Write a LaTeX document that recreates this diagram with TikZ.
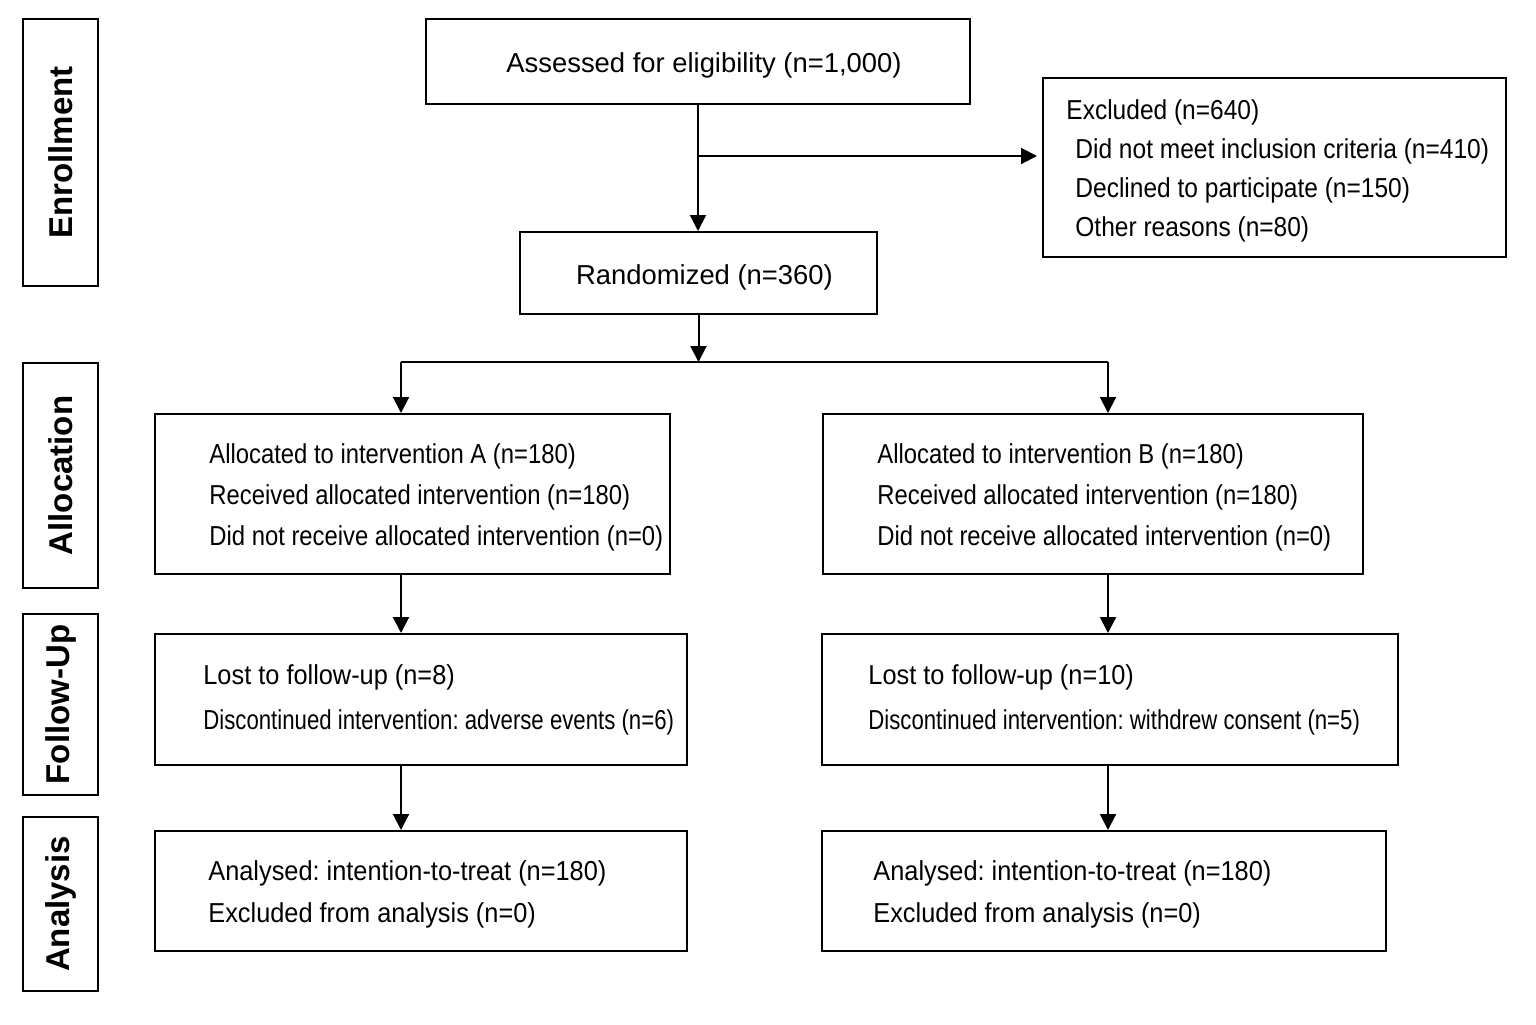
\documentclass[tikz,border=0pt]{standalone}
\usepackage{fontspec}
\setmainfont{Liberation Sans}
\newfontfamily\slimsans[FakeStretch=0.81]{Liberation Sans}
\newfontfamily\narrowsans[FakeStretch=0.87]{Liberation Sans}
\newfontfamily\midsans[FakeStretch=0.895]{Liberation Sans}
\newfontfamily\widesans[FakeStretch=0.925]{Liberation Sans}
\frenchspacing
\usetikzlibrary{arrows.meta,positioning}
\tikzset{
  boxnd/.style={draw, line width=1pt, inner sep=0pt},
  titlebox/.style={boxnd, text height=12pt, text depth=1pt,
    font=\fontsize{13.7}{16}\selectfont},
  stagebox/.style={boxnd, rotate=90, minimum height=37.5pt,
    font=\fontsize{16.5}{18}\selectfont\bfseries},
  txt/.style={inner sep=0pt, align=left, anchor=west, yshift=-1.5pt},
  fnt/.style 2 args={font=#1\fontsize{13.7}{#2}\selectfont},
  flow/.style={-{Triangle[length=8pt,width=8pt]}, line width=1pt},
  plainln/.style={line width=1pt},
}
\begin{document}
\begin{tikzpicture}[x=0.5pt,y=-0.5pt]
  \useasboundingbox (0,0) rectangle (1536,1024);
  % stage labels
  \node[stagebox, minimum width=133.5pt] (enrol) at (60.5,152.5) {Enrollment};
  \node[stagebox, minimum width=112.5pt] (alloc) at (60.5,475.5) {Allocation};
  \node[stagebox, minimum width=90.5pt] (follow) at (60.5,704.5) {Follow-Up};
  \node[stagebox, minimum width=87pt] (anal) at (60.5,904) {Analysis};

  % enrollment
  \node[titlebox, minimum width=272pt, minimum height=42.5pt] (assess) at (698,61.5)
    {\hspace*{6pt}Assessed for eligibility (n=1,000)};
  \node[boxnd, minimum width=231.5pt, minimum height=89.5pt] (excl) at (1274.5,167.5) {};
  \node[txt, fnt={\midsans}{19.5}] (exclt) at ([xshift=12pt]excl.west)
    {Excluded (n=640)\\
     \hspace*{4.5pt}Did not meet inclusion criteria (n=410)\\
     \hspace*{4.5pt}Declined to participate (n=150)\\
     \hspace*{4.5pt}Other reasons (n=80)};
  \node[titlebox, minimum width=178.5pt, minimum height=41pt] (rand) at (698.5,273)
    {\hspace*{6pt}Randomized (n=360)};

  % allocation
  \node[boxnd, minimum width=257.5pt, minimum height=80pt] (alA) at (412.5,494) {};
  \node[txt, fnt={\narrowsans}{20.5}] (alAt) at ([xshift=27.5pt]alA.west)
    {Allocated to intervention A (n=180)\\
     Received allocated intervention (n=180)\\
     Did not receive allocated intervention (n=0)};
  \node[boxnd, minimum width=270pt, minimum height=80pt] (alB) at (1093,494) {};
  \node[txt, fnt={\narrowsans}{20.5}] (alBt) at ([xshift=27.5pt]alB.west)
    {Allocated to intervention B (n=180)\\
     Received allocated intervention (n=180)\\
     Did not receive allocated intervention (n=0)};

  % follow-up
  \node[boxnd, minimum width=266pt, minimum height=65.5pt] (fuA) at (421,699.5) {};
  \node[txt, fnt={\widesans}{22.5}, yshift=1.5pt] (fuAt) at ([xshift=24.5pt]fuA.west)
    {Lost to follow-up (n=8)\\
     \slimsans Discontinued intervention: adverse events (n=6)};
  \node[boxnd, minimum width=288pt, minimum height=65.5pt] (fuB) at (1110,699.5) {};
  \node[txt, fnt={\widesans}{22.5}, yshift=1.5pt] (fuBt) at ([xshift=23.5pt]fuB.west)
    {Lost to follow-up (n=10)\\
     \slimsans Discontinued intervention: withdrew consent (n=5)};

  % analysis
  \node[boxnd, minimum width=266pt, minimum height=60pt] (anA) at (421,891) {};
  \node[txt, fnt={\widesans}{21}] (anAt) at ([xshift=27pt]anA.west)
    {Analysed: intention-to-treat (n=180)\\
     Excluded from analysis (n=0)};
  \node[boxnd, minimum width=282pt, minimum height=60pt] (anB) at (1104,891) {};
  \node[txt, fnt={\widesans}{21}] (anBt) at ([xshift=26pt]anB.west)
    {Analysed: intention-to-treat (n=180)\\
     Excluded from analysis (n=0)};

  % connectors
  \coordinate (exsplit) at (698,156);
  \coordinate (ca) at (401,362);
  \coordinate (cb) at (1108,362);
  \draw[flow] (assess.south) -- (assess.south |- rand.north);
  \draw[flow, shorten >=2.5pt] (exsplit) -- (excl.west |- exsplit);
  \draw[flow] (rand.south) -- (rand.south |- ca);
  \draw[plainln] (ca) -- (cb);
  \draw[flow] (ca) -- (alA.north -| ca);
  \draw[flow] (cb) -- (alB.north -| cb);
  \draw[flow] (alA.south -| ca) -- (fuA.north -| ca);
  \draw[flow] (alB.south -| cb) -- (fuB.north -| cb);
  \draw[flow] (fuA.south -| ca) -- (anA.north -| ca);
  \draw[flow] (fuB.south -| cb) -- (anB.north -| cb);
\end{tikzpicture}
\end{document}
